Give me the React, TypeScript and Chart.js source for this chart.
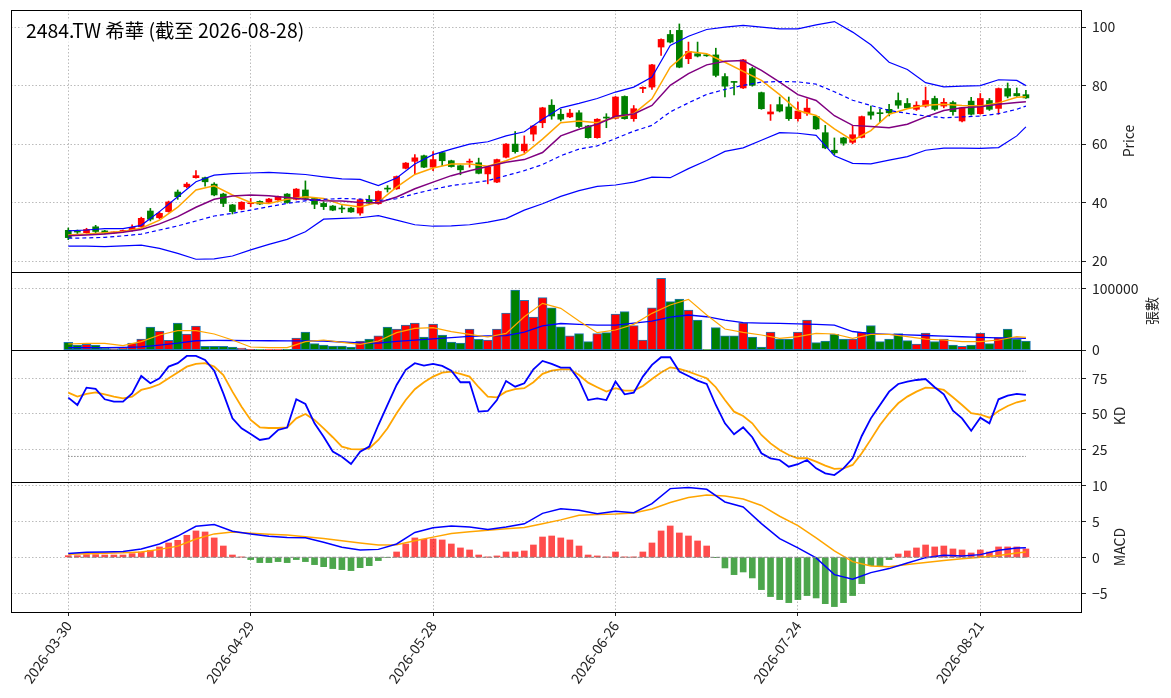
import React, { useEffect, useRef } from "react";
import { Chart, registerables } from "chart.js";

Chart.register(...registerables);

const W = 1171;
const H = 698;
const FONT = "'Noto Sans CJK TC', 'Noto Sans CJK JP', 'Noto Sans', sans-serif";

const title = "2484.TW 希華 (截至 2026-08-28)";
const tickIndex = [0, 20, 40, 60, 80, 100];
const tickLabels = ["2026-03-30", "2026-04-29", "2026-05-28", "2026-06-26", "2026-07-24", "2026-08-21"];

// daily OHLC (106 trading days)
const open = [
  30.5, 30.1, 29.7, 31.7, 30.3, 29.6, 30.1, 30.4, 31.7, 37.1,
  34.8, 36.9, 43.6, 45.4, 48.5, 48.5, 46.3, 42.9, 39.2, 37.7,
  39.6, 40.4, 40.1, 40.9, 42.9, 41.1, 44.3, 41.4, 39.7, 38.8,
  38.0, 38.1, 36.4, 41.0, 39.6, 44.8, 44.7, 51.7, 54.1, 56.0,
  52.1, 57.1, 54.3, 52.6, 53.8, 53.6, 49.8, 47.0, 55.5, 60.0,
  57.7, 63.4, 67.3, 73.3, 70.2, 69.3, 70.7, 66.2, 62.2, 69.1,
  68.8, 76.3, 68.7, 79.0, 79.5, 93.2, 97.5, 98.9, 89.2, 90.9,
  90.4, 90.5, 83.1, 81.3, 79.2, 85.8, 77.6, 70.3, 73.5, 72.7,
  68.7, 70.6, 69.5, 63.9, 57.9, 62.1, 60.6, 62.3, 71.0, 70.6,
  71.9, 74.9, 73.9, 71.9, 73.0, 75.6, 73.0, 74.2, 67.9, 74.7,
  70.4, 74.9, 72.2, 79.0, 77.3, 76.9,
];
const high = [
  31.3, 30.6, 31.2, 32.2, 30.5, 30.0, 30.6, 32.4, 35.0, 38.0,
  36.9, 40.5, 44.3, 46.8, 50.9, 48.7, 46.8, 43.2, 39.4, 40.3,
  41.4, 40.6, 41.4, 42.2, 43.1, 44.8, 47.4, 41.6, 40.3, 39.0,
  39.0, 38.4, 41.2, 42.4, 44.0, 45.8, 49.1, 53.7, 56.4, 56.2,
  57.4, 57.3, 54.5, 52.8, 54.9, 55.2, 52.3, 54.9, 60.2, 64.3,
  62.8, 66.4, 72.6, 75.2, 71.9, 71.9, 71.5, 66.4, 68.7, 70.4,
  76.3, 76.5, 73.2, 79.6, 87.3, 96.0, 98.9, 101.1, 94.9, 94.9,
  90.6, 92.8, 84.1, 81.5, 89.0, 86.3, 77.8, 73.5, 76.1, 76.1,
  74.4, 75.5, 69.7, 66.4, 62.1, 62.3, 66.4, 69.6, 73.0, 71.9,
  73.6, 77.5, 75.6, 74.5, 79.5, 76.4, 75.6, 74.7, 72.6, 76.0,
  77.3, 75.6, 79.2, 80.9, 79.2, 78.4,
];
const low = [
  27.3, 29.4, 29.5, 29.7, 29.3, 29.4, 29.9, 30.2, 31.5, 33.7,
  34.4, 36.7, 41.1, 45.0, 48.3, 45.6, 42.3, 38.6, 36.1, 37.5,
  38.6, 39.3, 39.9, 40.7, 39.8, 40.9, 40.9, 37.9, 37.6, 37.2,
  36.5, 36.6, 35.7, 39.6, 39.4, 43.6, 44.5, 51.5, 49.8, 51.9,
  50.9, 52.6, 52.1, 49.5, 52.1, 49.8, 46.4, 46.8, 55.3, 56.9,
  57.1, 61.1, 65.6, 68.5, 67.9, 69.0, 65.6, 62.0, 62.0, 65.6,
  68.6, 68.5, 67.8, 77.6, 78.7, 90.3, 94.6, 86.1, 87.5, 89.8,
  90.0, 83.0, 76.1, 76.8, 79.0, 79.8, 71.9, 68.1, 71.0, 68.1,
  67.8, 69.8, 65.0, 58.4, 56.4, 59.6, 60.1, 62.1, 68.5, 67.3,
  69.6, 72.2, 72.2, 71.5, 72.6, 71.5, 72.4, 69.9, 67.6, 69.9,
  70.2, 71.5, 70.2, 75.8, 76.3, 75.6,
];
const close = [
  28.0, 29.9, 30.8, 30.1, 29.5, 29.8, 30.3, 31.5, 34.6, 34.3,
  36.3, 40.2, 42.0, 46.3, 49.2, 47.1, 42.6, 39.7, 36.9, 40.1,
  39.9, 39.5, 41.2, 42.0, 40.0, 44.6, 41.4, 39.4, 38.6, 37.4,
  37.8, 36.8, 41.0, 39.8, 43.8, 44.6, 48.9, 53.5, 55.3, 52.1,
  54.7, 54.3, 52.3, 51.2, 54.1, 50.0, 52.1, 54.7, 60.0, 57.4,
  60.0, 66.2, 72.4, 69.6, 68.5, 70.6, 66.0, 62.2, 68.5, 68.9,
  76.1, 68.7, 72.1, 79.4, 87.1, 95.8, 94.9, 86.3, 91.7, 90.1,
  90.2, 83.5, 79.8, 81.1, 88.8, 80.1, 72.1, 71.0, 71.3, 68.7,
  71.3, 72.3, 65.2, 58.7, 57.0, 60.3, 63.2, 69.4, 69.9, 70.4,
  70.7, 73.3, 72.4, 73.3, 74.9, 71.9, 74.3, 71.1, 72.4, 70.2,
  75.6, 71.9, 79.0, 76.4, 76.5, 75.8,
];

// 張數
const volume = [
  12400, 8100, 9200, 8100, 3500, 2500, 3800, 11400, 17800, 37300,
  30800, 15700, 43800, 26000, 38900, 5900, 5900, 5900, 4900, 3200,
  1000, 500, 500, 800, 1000, 19500, 29200, 10300, 8100, 6500,
  6500, 4900, 14600, 17800, 23200, 37300, 34100, 40500, 43800, 21100,
  42200, 24300, 13000, 11400, 34100, 17300, 16200, 34100, 60000, 97300,
  80500, 53500, 84900, 68600, 37800, 23200, 26500, 13500, 26500, 28100,
  58400, 62200, 39500, 16200, 68600, 116200, 78400, 82700, 64900, 48600,
  500, 36200, 23200, 23200, 44300, 21100, 4900, 29200, 17800, 17800,
  29200, 48600, 11900, 14600, 25400, 17800, 17800, 28600, 39500, 13500,
  17800, 26500, 15100, 9700, 27600, 13500, 17800, 8100, 5900, 8100,
  27600, 10300, 20000, 34100, 17800, 14600,
];

const lineIndex = [
  0, 2, 4, 6, 8, 10, 12, 14, 16, 18, 20, 22, 24, 26, 28, 30, 32, 34, 36, 38,
  40, 42, 44, 46, 48, 50, 52, 54, 56, 58, 60, 62, 64, 66, 68, 70, 72, 74, 76, 78,
  80, 82, 84, 86, 88, 90, 92, 94, 96, 98, 100, 102, 104, 105,
];
const bbUpper = [
  30.3, 30.6, 31.1, 31.1, 32.2, 36.9, 42.0, 47.1, 49.4, 49.9,
  50.1, 50.3, 50.0, 49.6, 48.8, 48.1, 47.9, 45.8, 48.4, 53.2,
  56.4, 58.3, 60.0, 60.8, 62.8, 64.2, 68.5, 72.4, 73.9, 75.6,
  77.8, 79.5, 82.9, 93.7, 96.9, 99.2, 100.0, 100.6, 100.0, 99.4,
  99.4, 100.8, 101.9, 98.3, 94.0, 88.0, 85.5, 81.0, 79.6, 79.8,
  80.0, 82.0, 81.8, 80.0,
];
const bbLower = [
  25.1, 25.1, 24.9, 25.2, 25.4, 24.3, 22.6, 20.6, 20.7, 21.7,
  23.8, 25.7, 27.4, 30.0, 34.3, 34.6, 34.8, 35.5, 34.0, 32.4,
  31.9, 32.0, 32.4, 33.3, 34.5, 37.4, 39.6, 42.1, 44.1, 45.5,
  46.0, 47.0, 48.7, 48.5, 51.6, 54.4, 57.5, 58.7, 61.3, 63.9,
  63.7, 63.0, 56.0, 53.4, 53.2, 54.5, 55.7, 57.9, 58.6, 58.6,
  58.5, 58.8, 62.8, 65.9,
];
const ma5 = [
  28.9, 29.2, 29.7, 30.1, 31.2, 34.0, 38.4, 44.3, 45.7, 42.6,
  40.0, 39.7, 41.1, 42.0, 41.4, 39.3, 38.5, 40.2, 45.3, 49.6,
  51.8, 53.2, 53.2, 52.4, 54.3, 56.6, 61.7, 67.3, 67.9, 67.3,
  69.1, 70.4, 75.5, 86.3, 91.7, 90.9, 88.0, 84.9, 81.8, 76.9,
  71.5, 69.8, 65.2, 61.3, 64.6, 70.2, 72.1, 73.3, 73.6, 73.2,
  73.0, 74.1, 76.0, 76.2,
];
const ma10 = [
  28.6, 28.9, 29.2, 29.8, 30.8, 32.7, 35.2, 38.4, 41.1, 42.2,
  42.6, 42.3, 41.7, 41.1, 40.6, 40.5, 40.0, 39.9, 41.9, 44.7,
  47.0, 49.2, 50.9, 52.3, 53.8, 54.7, 57.1, 62.8, 65.1, 66.8,
  69.5, 70.3, 73.2, 80.1, 84.1, 87.1, 88.3, 88.6, 85.2, 81.2,
  76.9, 74.9, 69.7, 66.4, 66.0, 65.6, 66.8, 69.3, 71.5, 72.4,
  72.8, 73.6, 74.2, 74.5,
];
const ma20 = [
  27.8, 27.9, 28.1, 28.6, 29.2, 30.6, 32.0, 33.7, 35.4, 36.3,
  37.4, 38.6, 39.7, 40.6, 41.1, 41.4, 41.2, 40.7, 41.3, 43.0,
  44.5, 45.8, 46.6, 47.5, 49.2, 50.9, 53.0, 56.0, 58.3, 59.4,
  61.9, 64.4, 66.4, 71.0, 74.1, 77.0, 78.7, 80.1, 81.2, 81.4,
  81.3, 80.5, 77.9, 75.0, 73.2, 71.5, 70.5, 69.6, 69.0, 69.3,
  69.6, 70.4, 71.9, 73.0,
];
const volMa5 = [
  9700, 10600, 10800, 7000, 13500, 24300, 31400, 31400, 26000, 16200,
  4900, 3800, 3800, 13500, 16200, 12400, 9200, 14600, 28100, 35100,
  36200, 29700, 25400, 21100, 27000, 54000, 75700, 67600, 47000, 28100,
  32400, 41600, 59500, 73000, 82200, 56800, 34100, 28600, 24300, 18900,
  21600, 27000, 26000, 18900, 25400, 25400, 21600, 17800, 16200, 13500,
  13500, 16200, 21600, 20500,
];
const volMa20 = [
  3800, 3900, 4000, 4300, 5000, 8000, 11000, 15000, 15500, 15400,
  15300, 15000, 14800, 14700, 14600, 13000, 11500, 11000, 14000, 16000,
  18000, 20000, 22000, 22800, 23200, 29000, 39000, 43000, 41500, 40500,
  40500, 43500, 47000, 53500, 56800, 54000, 48500, 44300, 43500, 43200,
  42500, 41500, 40500, 30000, 26500, 25400, 24500, 23500, 22500, 21500,
  20500, 19800, 19200, 18900,
];

// KD (daily)
const kValues = [
  61.4, 56.2, 68.4, 67.5, 60.2, 58.6, 58.6, 64.4, 76.6, 71.5,
  75.0, 83.2, 85.6, 90.7, 90.7, 87.9, 80.4, 64.4, 46.8, 39.8,
  35.8, 31.6, 32.7, 38.6, 40.3, 60.2, 56.9, 43.3, 33.9, 23.4,
  19.8, 14.7, 23.4, 26.9, 42.1, 56.2, 70.3, 80.9, 85.6, 83.9,
  85.1, 83.7, 80.4, 72.2, 72.2, 51.5, 52.0, 59.7, 73.1, 69.1,
  71.5, 81.3, 87.2, 85.1, 82.5, 82.5, 73.8, 59.7, 60.9, 59.7,
  72.7, 63.7, 64.9, 76.2, 84.4, 89.8, 89.8, 79.7, 76.6, 73.4,
  71.0, 56.2, 43.3, 35.6, 40.5, 33.5, 22.2, 18.7, 17.5, 12.8,
  14.5, 17.5, 11.6, 8.1, 6.9, 11.6, 18.7, 34.4, 46.8, 56.2,
  65.6, 71.0, 72.7, 73.8, 74.5, 68.7, 63.7, 52.2, 46.8, 38.1,
  47.3, 43.3, 60.2, 62.8, 64.0, 63.3,
];
const dValues = [
  64.9, 62.1, 64.0, 65.1, 63.7, 62.1, 60.9, 62.1, 66.8, 68.4,
  70.8, 75.0, 79.0, 83.2, 85.1, 85.6, 83.2, 77.3, 65.6, 55.0,
  45.7, 40.5, 40.0, 40.0, 40.5, 46.8, 49.9, 45.7, 39.8, 33.5,
  26.9, 25.2, 25.0, 25.7, 31.6, 39.8, 50.4, 59.7, 67.3, 72.2,
  76.2, 79.0, 79.7, 78.1, 76.2, 68.7, 62.1, 61.6, 65.6, 67.3,
  68.0, 72.2, 78.1, 80.4, 81.3, 81.3, 77.3, 71.9, 68.7, 65.6,
  68.0, 66.3, 66.3, 69.6, 74.5, 79.0, 82.7, 81.6, 79.7, 77.3,
  75.0, 68.7, 59.7, 51.5, 48.5, 43.3, 35.1, 29.2, 24.5, 21.0,
  18.7, 18.7, 16.3, 13.5, 11.2, 11.6, 14.0, 22.2, 32.0, 42.1,
  50.4, 57.4, 62.1, 65.6, 68.4, 68.0, 66.8, 61.6, 56.2, 50.4,
  49.5, 47.3, 52.0, 55.5, 58.1, 59.7,
];
const kdLevels = [20, 80];

// MACD
const macdHist = [
  0.23, 0.23, 0.37, 0.37, 0.32, 0.32, 0.32, 0.51, 0.74, 0.97,
  1.44, 1.99, 2.36, 3.06, 3.66, 3.52, 2.69, 1.57, 0.32, 0.02,
  -0.32, -0.74, -0.74, -0.6, -0.74, -0.32, -0.6, -1.02, -1.3, -1.57,
  -1.71, -1.85, -1.44, -1.16, -0.46, -0.05, 0.74, 1.85, 2.69, 2.5,
  2.55, 2.41, 1.85, 1.3, 1.02, 0.32, 0.02, 0.19, 0.74, 0.74,
  0.88, 1.71, 2.82, 2.96, 2.69, 2.41, 1.57, 0.32, 0.19, 0.02,
  0.74, 0.03, 0.02, 0.74, 1.99, 3.66, 4.35, 3.38, 2.96, 2.27,
  1.57, -0.03, -1.48, -2.41, -2.04, -2.87, -4.49, -5.46, -5.88, -6.3,
  -5.88, -5.32, -5.65, -6.44, -6.85, -6.3, -5.32, -3.66, -1.16, -1.16,
  -0.32, 0.46, 0.88, 1.3, 1.71, 1.44, 1.57, 1.16, 1.02, 0.6,
  1.02, 0.74, 1.44, 1.44, 1.44, 1.16,
];
const dif = [
  0.51, 0.7, 0.74, 0.79, 1.15, 1.85, 2.95, 4.3, 4.55, 3.62,
  3.25, 2.92, 2.75, 2.7, 2.1, 1.4, 1.02, 1.1, 1.85, 3.45,
  4.1, 4.35, 4.21, 3.85, 4.2, 4.65, 6.1, 6.75, 6.53, 6.06,
  6.39, 6.2, 7.45, 9.54, 9.68, 9.44, 7.69, 6.99, 4.68, 2.59,
  1.3, -0.09, -2.41, -3.06, -2.13, -1.57, -0.79, -0.05, 0.28, 0.19,
  0.37, 0.97, 1.3, 1.34,
];
const dea = [
  0.42, 0.48, 0.55, 0.62, 0.75, 1.1, 1.55, 2.55, 3.25, 3.52,
  3.35, 3.2, 3.08, 2.85, 2.6, 2.3, 2.0, 1.7, 1.75, 2.3,
  2.8, 3.3, 3.55, 3.75, 3.95, 4.15, 4.65, 5.2, 5.85, 5.95,
  6.0, 6.15, 6.7, 7.6, 8.3, 8.65, 8.5, 8.1, 7.2, 5.7,
  4.4, 2.7, 0.9, -0.6, -1.2, -1.33, -1.0, -0.72, -0.45, -0.2,
  0.0, 0.25, 0.6, 0.74,
];

const RED = "#ff0000";
const GREEN = "#008000";
const GRID = "#aaaaaa";
const TEXT = "#222222";

const days = close.map((_, i) => i);
const lastDay = days[days.length - 1];
const isUp = (i: number) => close[i] >= open[i];
const sampled = (values: number[]) => values.map((y, j) => ({ x: lineIndex[j], y }));
const daily = (values: number[]) => values.map((y, i) => ({ x: i, y }));
const flat = (y: number) => [{ x: 0, y }, { x: lastDay, y }];

const lineDs = (label: string, data: any[], yAxisID: string, color: string, width: number, dash: number[] = []) => ({
  type: "line" as const,
  label,
  data,
  yAxisID,
  borderColor: color,
  borderWidth: width,
  borderDash: dash,
  pointRadius: 0,
  tension: 0,
  fill: false,
  order: 1,
});

const yScale = (weight: number, min: number, max: number, ticks: number[], fmt?: (v: number) => string) => ({
  type: "linear" as const,
  position: "right" as const,
  stack: "panels",
  stackWeight: weight,
  min,
  max,
  afterBuildTicks: (axis: any) => {
    axis.ticks = ticks.map((value) => ({ value }));
  },
  afterFit: (axis: any) => {
    axis.width = 89;
    axis.paddingTop = 0;
    axis.paddingBottom = 0;
  },
  ticks: {
    padding: 6,
    color: TEXT,
    font: { size: 14, family: FONT },
    callback: (v: any) => (fmt ? fmt(Number(v)) : String(v)),
  },
  grid: { color: GRID, lineWidth: 0.8, tickColor: TEXT, tickLength: 4, tickWidth: 1, offset: false },
  border: { display: false, dash: [1.5, 2] },
});

const decorations = {
  id: "decorations",
  beforeDraw(chart: any) {
    const { ctx } = chart;
    ctx.save();
    ctx.fillStyle = "#ffffff";
    ctx.fillRect(0, 0, chart.width, chart.height);
    ctx.restore();
  },
  afterDraw(chart: any) {
    const { ctx, chartArea } = chart;
    ctx.save();
    // panel frames
    ctx.strokeStyle = "#000000";
    ctx.lineWidth = 1;
    ["yP", "yV", "yK", "yM"].forEach((id) => {
      const s = chart.scales[id];
      ctx.strokeRect(
        Math.round(chartArea.left) + 0.5,
        Math.round(s.top) + 0.5,
        Math.round(chartArea.right - chartArea.left) - 1,
        Math.round(s.bottom - s.top)
      );
    });
    // y axis labels
    ctx.fillStyle = TEXT;
    ctx.font = `14px ${FONT}`;
    ctx.textAlign = "center";
    ctx.textBaseline = "middle";
    const labels: [string, string, number][] = [
      ["Price", "yP", 1129],
      ["張數", "yV", 1152],
      ["KD", "yK", 1120],
      ["MACD", "yM", 1120],
    ];
    labels.forEach(([text, id, x]) => {
      const s = chart.scales[id];
      ctx.save();
      ctx.translate(x, (s.top + s.bottom) / 2);
      ctx.rotate(-Math.PI / 2);
      ctx.fillText(text, 0, 0);
      ctx.restore();
    });
    // title
    ctx.font = `19.4px ${FONT}`;
    ctx.textAlign = "left";
    const tw = ctx.measureText(title).width;
    ctx.fillStyle = "rgba(255,255,255,0.7)";
    ctx.fillRect(21, 19, tw + 10, 25);
    ctx.fillStyle = "#000000";
    ctx.fillText(title, 26, 31);
    ctx.restore();
  },
};

const App: React.FC = () => {
  const canvasRef = useRef<HTMLCanvasElement>(null);
  const chartRef = useRef<Chart | null>(null);

  useEffect(() => {
    if (!canvasRef.current) return;
    if (chartRef.current) chartRef.current.destroy();
    const ctx = canvasRef.current.getContext("2d");
    if (!ctx) return;

    Chart.defaults.font.family = FONT;

    const candleColors = days.map((i) => (isUp(i) ? RED : GREEN));
    const histColors = macdHist.map((v) => (v >= 0 ? "rgba(255,0,0,0.7)" : "rgba(0,128,0,0.7)"));

    chartRef.current = new Chart(ctx, {
      type: "line",
      data: {
        datasets: [
          // price panel
          lineDs("BB upper", sampled(bbUpper), "yP", "#0000ff", 1.2),
          lineDs("BB lower", sampled(bbLower), "yP", "#0000ff", 1.2),
          lineDs("MA20", sampled(ma20), "yP", "#0000ff", 1.2, [4, 3]),
          lineDs("MA10", sampled(ma10), "yP", "#800080", 1.5),
          lineDs("MA5", sampled(ma5), "yP", "#ffa500", 1.5),
          {
            type: "bar",
            label: "wick",
            data: days.map((i) => ({ x: i, y: [low[i], high[i]] })),
            yAxisID: "yP",
            backgroundColor: candleColors,
            barThickness: 1,
            grouped: false,
            order: 3,
          } as any,
          {
            type: "bar",
            label: "body",
            data: days.map((i) => ({ x: i, y: [open[i], close[i]] })),
            yAxisID: "yP",
            backgroundColor: candleColors,
            barThickness: 6,
            minBarLength: 1,
            grouped: false,
            order: 2,
          } as any,
          // volume panel
          {
            type: "bar",
            label: "volume",
            data: daily(volume),
            yAxisID: "yV",
            backgroundColor: candleColors,
            borderColor: "#1f77b4",
            borderWidth: 1,
            borderSkipped: false,
            barThickness: 9,
            grouped: false,
            order: 2,
          } as any,
          lineDs("vol MA5", sampled(volMa5), "yV", "#ffa500", 1.2),
          lineDs("vol MA20", sampled(volMa20), "yV", "#0000ff", 1.3),
          // KD panel
          ...kdLevels.map((lv) => lineDs(`KD ${lv}`, flat(lv), "yK", "rgba(90,90,90,0.9)", 1, [1.2, 1.8])),
          lineDs("K", daily(kValues), "yK", "#0000ff", 1.8),
          lineDs("D", daily(dValues), "yK", "#ffa500", 1.8),
          // MACD panel
          {
            type: "bar",
            label: "hist",
            data: daily(macdHist),
            yAxisID: "yM",
            backgroundColor: histColors,
            barThickness: 6,
            grouped: false,
            order: 2,
          } as any,
          lineDs("zero", flat(0), "yM", "#888888", 1, [4, 2]),
          lineDs("DIF", sampled(dif), "yM", "#0000ff", 1.5),
          lineDs("DEA", sampled(dea), "yM", "#ffa500", 1.5),
        ],
      },
      options: {
        responsive: false,
        animation: false,
        events: [],
        layout: { padding: { left: 11, top: 10, right: 0, bottom: 0 } },
        plugins: { legend: { display: false }, tooltip: { enabled: false } },
        scales: {
          x: {
            type: "linear",
            min: -6.28,
            max: 111.15,
            offset: false,
            afterBuildTicks: (axis: any) => {
              axis.ticks = tickIndex.map((value) => ({ value }));
            },
            afterFit: (axis: any) => {
              axis.height = 86;
              axis.paddingLeft = 0;
              axis.paddingRight = 0;
            },
            ticks: {
              autoSkip: false,
              maxRotation: 55,
              minRotation: 55,
              padding: 2,
              color: TEXT,
              font: { size: 14, family: FONT },
              callback: (v: any) => {
                const k = tickIndex.indexOf(Number(v));
                return k >= 0 ? tickLabels[k] : "";
              },
            },
            grid: { color: GRID, lineWidth: 0.8, tickColor: TEXT, tickLength: 4, tickWidth: 1, offset: false },
            border: { display: false, dash: [1.5, 2] },
          },
          yP: yScale(262, 16.24, 105.87, [20, 30, 40, 50, 60, 70, 80, 90, 100]),
          yV: yScale(78, 0, 126600, [0, 100000]),
          yK: yScale(132, 2.0, 94.9, [25, 50, 75]),
          yM: yScale(130, -7.6, 10.46, [-5, 0, 5, 10], (v) => (v < 0 ? `\u2212${Math.abs(v)}` : String(v))),
        } as any,
      },
      plugins: [decorations],
    });

    return () => {
      if (chartRef.current) {
        chartRef.current.destroy();
        chartRef.current = null;
      }
    };
  }, []);

  return (
    <div style={{ position: "absolute", left: 0, top: 0, width: W, height: H, background: "#fff" }}>
      <canvas ref={canvasRef} width={W} height={H} style={{ display: "block", width: W, height: H }} />
    </div>
  );
};

export default App;
